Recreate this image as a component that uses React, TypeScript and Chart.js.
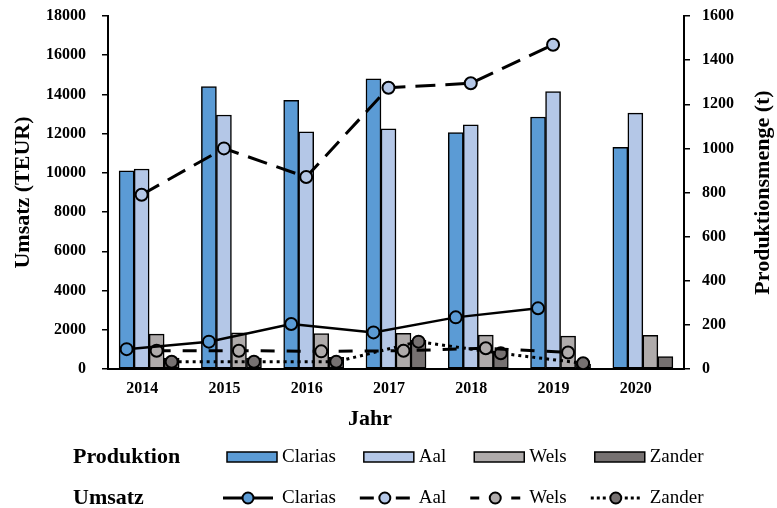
import React, { useEffect, useRef } from 'react';
import { Chart, registerables } from 'chart.js';

Chart.register(...registerables);

// ---------- data ----------
const years = ['2014', '2015', '2016', '2017', '2018', '2019', '2020'];
const seriesNames = ['Clarias', 'Aal', 'Wels', 'Zander'];

// Produktion (bars, left axis)
const prodClarias = [10100, 14400, 13700, 14800, 12050, 12850, 11300];
const prodAal = [10200, 12950, 12100, 12250, 12450, 14150, 13050];
const prodWels = [1780, 1850, 1800, 1820, 1730, 1680, 1720];
const prodZander = [560, 560, 600, 1480, 900, 250, 630];

// Umsatz (lines, right axis)
const umsClarias = [90, 124, 204, 166, 234, 275, null];
const umsAal = [790, 1000, 870, 1275, 1295, 1470, null];
const umsWels = [83, 83, 80, 83, 94, 75, null];
const umsZander = [33, 33, 33, 124, 71, 26, null];

const leftTicks = [0, 2000, 4000, 6000, 8000, 10000, 12000, 14000, 16000, 18000];
const rightTicks = [0, 200, 400, 600, 800, 1000, 1200, 1400, 1600];

// ---------- styles ----------
const COLORS = ['#5b9bd5', '#b4c7e7', '#afabab', '#767171'];
const LINE_STYLES = [
  { width: 2.5, dash: [] as number[] },
  { width: 3, dash: [20, 10] },
  { width: 3, dash: [14, 12] },
  { width: 3, dash: [3, 4] },
];
const LEGEND_SEG = [
  { len: 25, dash: [] as number[] },
  { len: 14, dash: [] as number[] },
  { len: 9, dash: [] as number[] },
  { len: 16, dash: [3, 3] },
];
const FONT = '"Liberation Serif", "Times New Roman", serif';
const GROUP_PCT = 0.73; // share of a category taken by the 4-bar group

const barSeries = [prodClarias, prodAal, prodWels, prodZander];
const lineSeries = [umsClarias, umsAal, umsWels, umsZander];

// x position of series k within category i (shared by bars and line markers)
const slotX = (i: number, k: number, n: number) => i + ((k - (n - 1) / 2) * GROUP_PCT) / n;

const overlayPlugin = {
  id: 'overlay',
  afterDraw(chart: any) {
    const ctx = chart.ctx as CanvasRenderingContext2D;
    const area = chart.chartArea;
    ctx.save();
    ctx.fillStyle = '#000';

    // right axis title (reads bottom-to-top)
    ctx.save();
    ctx.translate(chart.width - 14, (area.top + area.bottom) / 2);
    ctx.rotate(-Math.PI / 2);
    ctx.font = `bold 22px ${FONT}`;
    ctx.textAlign = 'center';
    ctx.textBaseline = 'middle';
    ctx.fillText('Produktionsmenge (t)', 0, 0);
    ctx.restore();

    // x axis title
    ctx.font = `bold 22px ${FONT}`;
    ctx.textAlign = 'center';
    ctx.textBaseline = 'middle';
    ctx.fillText('Jahr', area.left + 262, area.bottom + 50);

    // legend
    const row1 = area.bottom + 88;
    const row2 = area.bottom + 129;
    ctx.textAlign = 'left';
    ctx.font = `bold 22px ${FONT}`;
    ctx.fillText('Produktion', 73, row1);
    ctx.fillText('Umsatz', 73, row2);

    ctx.font = `19px ${FONT}`;
    let x = 227;
    for (let k = 0; k < seriesNames.length; k++) {
      ctx.fillStyle = COLORS[k];
      ctx.fillRect(x, row1 - 5, 50, 10);
      ctx.strokeStyle = '#000';
      ctx.lineWidth = 1.5;
      ctx.setLineDash([]);
      ctx.strokeRect(x, row1 - 5, 50, 10);

      const x0 = x - 4;
      const x1 = x + 46;
      const cx = (x0 + x1) / 2;
      const seg = LEGEND_SEG[k];
      ctx.lineWidth = 3;
      ctx.setLineDash(seg.dash);
      ctx.beginPath();
      ctx.moveTo(x0, row2);
      ctx.lineTo(x0 + seg.len, row2);
      ctx.moveTo(x1 - seg.len, row2);
      ctx.lineTo(x1, row2);
      ctx.stroke();
      ctx.setLineDash([]);
      ctx.beginPath();
      ctx.arc(cx, row2, 5.5, 0, Math.PI * 2);
      ctx.fillStyle = COLORS[k];
      ctx.fill();
      ctx.lineWidth = 2;
      ctx.stroke();

      ctx.fillStyle = '#000';
      const tx = x + 55;
      ctx.fillText(seriesNames[k], tx, row1);
      ctx.fillText(seriesNames[k], tx, row2);
      x = tx + ctx.measureText(seriesNames[k]).width + 28;
    }
    ctx.restore();
  },
};

export default function App() {
  const ref = useRef<HTMLCanvasElement>(null);

  useEffect(() => {
    document.body.style.margin = '0';
    const nBars = barSeries.length;

    const barDatasets = barSeries.map((vals, k) => ({
      type: 'bar' as const,
      label: 'Produktion ' + seriesNames[k],
      data: vals.map((v, i) => ({ x: slotX(i, k, nBars), y: v })),
      xAxisID: 'xl',
      yAxisID: 'y',
      backgroundColor: COLORS[k],
      borderColor: '#000',
      borderWidth: 1.5,
      borderSkipped: false,
      grouped: false,
      categoryPercentage: 1,
      barPercentage: 1,
      order: 2,
    }));

    const lineDatasets = lineSeries.map((vals, k) => ({
      type: 'line' as const,
      label: 'Umsatz ' + seriesNames[k],
      data: vals
        .map((v, i) => (v == null ? null : { x: slotX(i, k, nBars), y: v }))
        .filter((p) => p !== null),
      xAxisID: 'xl',
      yAxisID: 'y2',
      borderColor: '#000',
      borderWidth: LINE_STYLES[k].width,
      borderDash: LINE_STYLES[k].dash,
      pointRadius: 6,
      pointBorderWidth: 2,
      pointBorderColor: '#000',
      pointBackgroundColor: COLORS[k],
      fill: false,
      tension: 0,
      order: 1,
    }));

    const tickFont = { family: FONT, size: 16, weight: 'bold' as const };

    const chart = new Chart(ref.current as HTMLCanvasElement, {
      type: 'bar',
      data: { labels: years, datasets: [...barDatasets, ...lineDatasets] as any },
      options: {
        responsive: false,
        animation: false,
        devicePixelRatio: 1,
        events: [],
        layout: { padding: { top: 16, bottom: 77, left: 0, right: 0 } },
        plugins: { legend: { display: false }, tooltip: { enabled: false } },
        scales: {
          x: {
            type: 'category',
            offset: true,
            grid: { display: false, drawTicks: false },
            border: { display: true, color: '#000', width: 2 },
            ticks: { font: tickFont, color: '#000', padding: 10, labelOffset: -7, maxRotation: 0 },
            afterFit: (s: any) => { s.height = 62; },
          },
          xl: {
            type: 'linear',
            display: false,
            offset: false,
            min: -0.5,
            max: years.length - 0.5,
          },
          y: {
            type: 'linear',
            position: 'left',
            min: leftTicks[0],
            max: leftTicks[leftTicks.length - 1],
            afterBuildTicks: (s: any) => { s.ticks = leftTicks.map((v) => ({ value: v })); },
            grid: { drawOnChartArea: false, drawTicks: true, tickLength: 6, color: '#000', lineWidth: 1.5 },
            border: { display: true, color: '#000', width: 2 },
            ticks: { font: tickFont, color: '#000', padding: 16, callback: (v: any) => String(v) },
            title: {
              display: true,
              text: 'Umsatz (TEUR)',
              font: { family: FONT, size: 22, weight: 'bold' },
              color: '#000',
              padding: { top: 10, bottom: 0 },
            },
            afterFit: (s: any) => { s.width = 108; s.paddingTop = 0; s.paddingBottom = 0; },
          },
          y2: {
            type: 'linear',
            position: 'right',
            min: rightTicks[0],
            max: rightTicks[rightTicks.length - 1],
            afterBuildTicks: (s: any) => { s.ticks = rightTicks.map((v) => ({ value: v })); },
            grid: { drawOnChartArea: false, drawTicks: true, tickLength: 6, color: '#000', lineWidth: 1.5 },
            border: { display: true, color: '#000', width: 2 },
            ticks: { font: tickFont, color: '#000', padding: 12, callback: (v: any) => String(v) },
            afterFit: (s: any) => { s.width = 93; s.paddingTop = 0; s.paddingBottom = 0; },
          },
        },
      } as any,
      plugins: [overlayPlugin],
    });
    return () => chart.destroy();
  }, []);

  return (
    <div style={{ width: 777, height: 508 }}>
      <canvas ref={ref} width={777} height={508} style={{ display: 'block' }} />
    </div>
  );
}
